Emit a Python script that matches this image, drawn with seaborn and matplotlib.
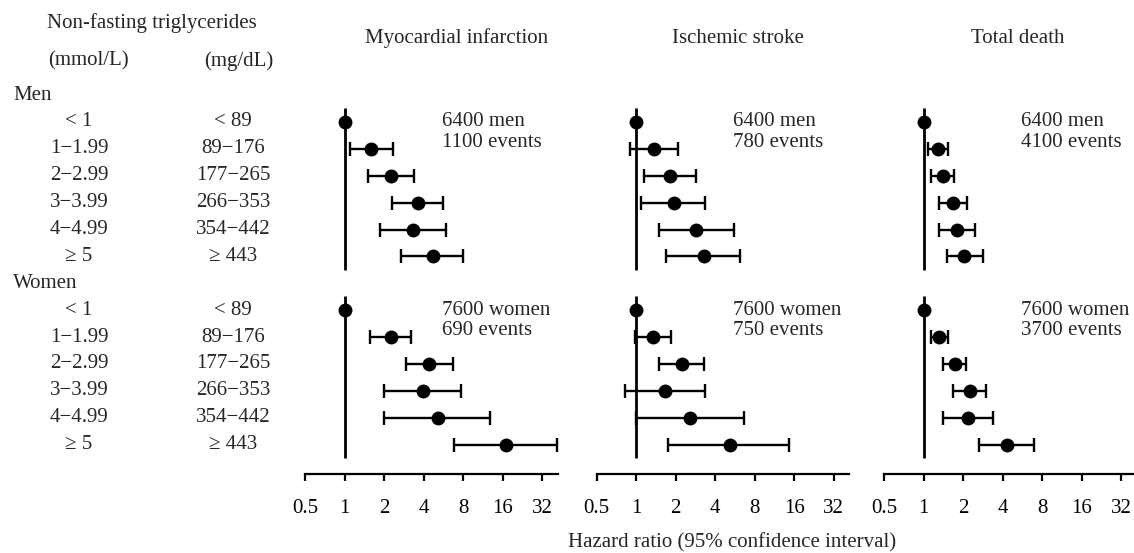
import numpy as np
import pandas as pd
import matplotlib
matplotlib.use("Agg")
import matplotlib.pyplot as plt
import matplotlib.transforms as mtransforms
import seaborn as sns

# Categories (triglyceride groups)
mmol_labels = ["< 1", "1\u22121.99", "2\u22122.99", "3\u22123.99", "4\u22124.99", "\u2265 5"]
mgdl_labels = ["< 89", "89\u2212176", "177\u2212265", "266\u2212353", "354\u2212442", "\u2265 443"]

nan = np.nan

# Myocardial infarction
mi_men_hr = [1, 1.60, 2.26, 3.63, 3.32, 4.69]
mi_men_lo = [nan, 1.10, 1.52, 2.32, 1.85, 2.69]
mi_men_hi = [nan, 2.36, 3.40, 5.68, 5.93, 8.07]
mi_women_hr = [1, 2.26, 4.44, 3.96, 5.15, 17.0]
mi_women_lo = [nan, 1.57, 2.92, 2.01, 2.01, 6.86]
mi_women_hi = [nan, 3.22, 6.77, 7.75, 12.9, 41.6]

# Ischemic stroke
st_men_hr = [1, 1.37, 1.82, 1.93, 2.86, 3.27]
st_men_lo = [nan, 0.90, 1.15, 1.09, 1.48, 1.69]
st_men_hi = [nan, 2.08, 2.86, 3.33, 5.54, 6.23]
st_women_hr = [1, 1.34, 2.23, 1.67, 2.59, 5.16]
st_women_lo = [nan, 0.98, 1.50, 0.82, 1.0, 1.75]
st_women_hi = [nan, 1.84, 3.27, 3.33, 6.68, 14.7]

# Total death
td_men_hr = [1, 1.28, 1.40, 1.69, 1.80, 2.05]
td_men_lo = [nan, 1.08, 1.14, 1.32, 1.32, 1.51]
td_men_hi = [nan, 1.53, 1.71, 2.16, 2.48, 2.82]
td_women_hr = [1, 1.32, 1.74, 2.27, 2.20, 4.32]
td_women_lo = [nan, 1.14, 1.42, 1.67, 1.40, 2.67]
td_women_hi = [nan, 1.55, 2.10, 3.00, 3.38, 6.97]

outcomes = ["Myocardial infarction", "Ischemic stroke", "Total death"]
men_notes = [("6400 men", "1100 events"), ("6400 men", "780 events"), ("6400 men", "4100 events")]
women_notes = [("7600 women", "690 events"), ("7600 women", "750 events"), ("7600 women", "3700 events")]
tick_vals = [0.5, 1, 2, 4, 8, 16, 32]

# build one long table
rows = []
series = {
    "Myocardial infarction": [(mi_men_hr, mi_men_lo, mi_men_hi), (mi_women_hr, mi_women_lo, mi_women_hi)],
    "Ischemic stroke": [(st_men_hr, st_men_lo, st_men_hi), (st_women_hr, st_women_lo, st_women_hi)],
    "Total death": [(td_men_hr, td_men_lo, td_men_hi), (td_women_hr, td_women_lo, td_women_hi)],
}
for outcome, groups in series.items():
    for g, (sex, (hr, lo, hi)) in enumerate(zip(["Men", "Women"], groups)):
        for i in range(6):
            rows.append({"outcome": outcome, "sex": sex, "row": g * 7 + i + 1,
                         "hr": hr[i], "lo": lo[i], "hi": hi[i]})
df = pd.DataFrame(rows)

sns.set_theme(style="white")
plt.rcParams["font.family"] = ["Liberation Serif", "DejaVu Serif"]
fs = 15

fig = plt.figure(figsize=(11.34, 5.53), dpi=100)
W, H = 1134, 553
lefts = [305, 596.7, 884]
width = 252.5
top_px, bot_px = 80, 474

axes = []
for j, outcome in enumerate(outcomes):
    ax = fig.add_axes([lefts[j] / W, 1 - bot_px / H, width / W, (bot_px - top_px) / H])
    axes.append(ax)
    d = df[df["outcome"] == outcome]

    # reference lines at HR = 1
    ax.vlines(1, 0.48, 6.5, color="black", lw=2)
    ax.vlines(1, 7.48, 13.5, color="black", lw=2)

    ci = d.dropna(subset=["lo"])
    ax.errorbar(ci["hr"], ci["row"], xerr=[ci["hr"] - ci["lo"], ci["hi"] - ci["hr"]],
                fmt="none", ecolor="black", elinewidth=1.7, capsize=5.3, capthick=1.7)
    sns.scatterplot(data=d, x="hr", y="row", ax=ax, color="black", s=100,
                    edgecolor="black", linewidth=0, zorder=5, legend=False)

    ax.set_xscale("log", base=2)
    ax.set_xlim(0.5, 42)
    ax.set_ylim((bot_px - 95) / 26.9, (top_px - 95) / 26.9)
    ax.set_xticks(tick_vals)
    ax.set_xticklabels([f"{t:g}" for t in tick_vals], fontsize=fs)
    ax.xaxis.set_minor_locator(matplotlib.ticker.NullLocator())
    ax.set_yticks([])
    ax.set_xlabel("")
    ax.set_ylabel("")
    for s in ["top", "left", "right"]:
        ax.spines[s].set_visible(False)
    ax.spines["bottom"].set_color("black")
    ax.spines["bottom"].set_linewidth(1.6)
    ax.tick_params(axis="x", direction="out", length=5, width=1.6, color="black",
                   pad=13, bottom=True, labelcolor="black")
    ax.patch.set_alpha(0)

    for (l1, l2), base in [(men_notes[j], 1), (women_notes[j], 8)]:
        ax.text(5.5, base, l1, fontsize=fs, va="center", ha="left")
        ax.text(5.5, base + 0.76, l2, fontsize=fs, va="center", ha="left")

    fig.text([457, 738, 1018][j] / W, 1 - 43 / H, outcome, fontsize=fs,
             ha="center", va="baseline")

# left-hand row labels
tr = mtransforms.blended_transform_factory(fig.transFigure, axes[0].transData)
for g, sex in enumerate(["Men", "Women"]):
    fig.text(13 / W, g * 7, sex, fontsize=fs, ha="left", va="center", transform=tr)
    for i in range(6):
        fig.text(79 / W, g * 7 + i + 1, mmol_labels[i], fontsize=fs, ha="center", va="center", transform=tr)
        fig.text(233 / W, g * 7 + i + 1, mgdl_labels[i], fontsize=fs, ha="center", va="center", transform=tr)

fig.text(152 / W, 1 - 23 / H, "Non-fasting triglycerides", fontsize=fs, ha="center", va="center")
fig.text(88 / W, 1 - 61 / H, "(mmol/L)", fontsize=fs, ha="center", va="center")
fig.text(239 / W, 1 - 61 / H, "(mg/dL)", fontsize=fs, ha="center", va="center")
fig.text(732 / W, 1 - 543 / H, "Hazard ratio (95% confidence interval)", fontsize=fs,
         ha="center", va="center")

fig.savefig("out.png", dpi=100, facecolor="white")
